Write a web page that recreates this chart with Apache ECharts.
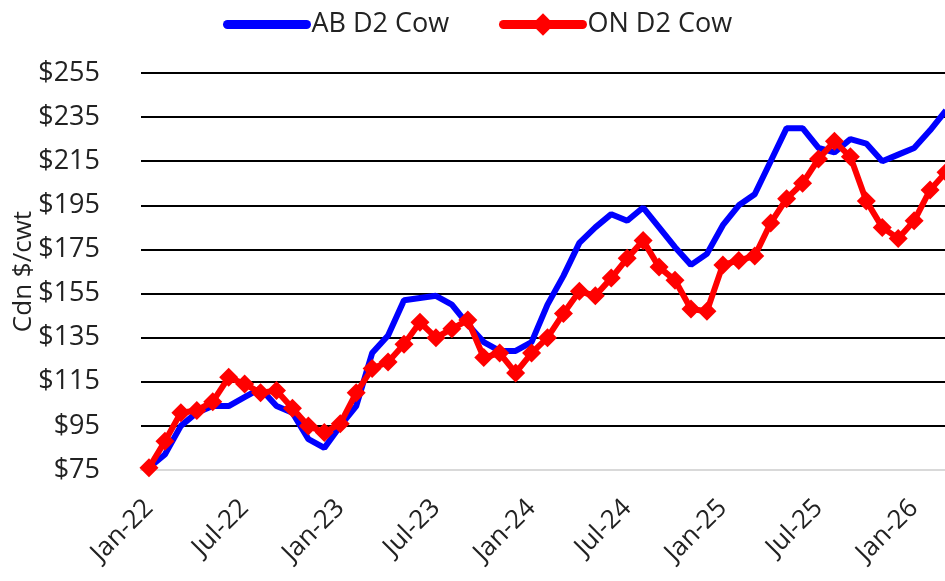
<!DOCTYPE html>
<html>
<head>
<meta charset="utf-8">
<script src="https://cdn.jsdelivr.net/npm/echarts@6/dist/echarts.min.js"></script>
<style>
  html, body { margin: 0; padding: 0; background: #fff; }
  #chart { width: 945px; height: 581px; }
</style>
</head>
<body>
<div id="chart"></div>
<script>
// monthly, Jan-22 .. Mar-26
var months = [
  'Jan-22', 'Feb-22', 'Mar-22', 'Apr-22', 'May-22', 'Jun-22', 'Jul-22', 'Aug-22', 'Sep-22', 'Oct-22', 'Nov-22', 'Dec-22',
  'Jan-23', 'Feb-23', 'Mar-23', 'Apr-23', 'May-23', 'Jun-23', 'Jul-23', 'Aug-23', 'Sep-23', 'Oct-23', 'Nov-23', 'Dec-23',
  'Jan-24', 'Feb-24', 'Mar-24', 'Apr-24', 'May-24', 'Jun-24', 'Jul-24', 'Aug-24', 'Sep-24', 'Oct-24', 'Nov-24', 'Dec-24',
  'Jan-25', 'Feb-25', 'Mar-25', 'Apr-25', 'May-25', 'Jun-25', 'Jul-25', 'Aug-25', 'Sep-25', 'Oct-25', 'Nov-25', 'Dec-25',
  'Jan-26', 'Feb-26', 'Mar-26'
];

var abCow = [
  76, 82, 95, 101, 104, 104, 108, 112, 104, 101, 89, 85,
  95, 104, 128, 136, 152, 153, 154, 150, 141, 133, 129, 129,
  133, 150, 163, 178, 185, 191, 188, 194, 185, 176, 168, 173,
  186, 195, 200, 215, 230, 230, 221, 219, 225, 223, 215, 218,
  221, 229, 238
];

var onCow = [
  76, 88, 101, 102, 106, 117, 114, 110, 111, 103, 95, 92,
  96, 110, 121, 124, 132, 142, 135, 139, 143, 126, 128, 119,
  128, 135, 146, 156, 154, 162, 171, 179, 167, 161, 148, 147,
  168, 170, 172, 187, 198, 205, 216, 224, 217, 197, 185, 180,
  188, 202, 210
];

var yTicks = { min: 75, max: 255, interval: 20 };

var font = "'Open Sans', 'Noto Sans', sans-serif";

function legendBox(name, left, extra) {
  var item = { name: name };
  if (extra) item.itemStyle = extra;
  return {
    left: left,
    top: 6,
    itemWidth: 79,
    itemHeight: 28,
    lineStyle: { width: 9, cap: 'round' },
    textStyle: { fontSize: 27, color: '#222', fontFamily: font },
    data: [item]
  };
}

var chart = echarts.init(document.getElementById('chart'));
var option = {
  animation: false,
  textStyle: { fontFamily: font },
  legend: [
    legendBox('AB D2 Cow', 218, { opacity: 0 }),
    legendBox('ON D2 Cow', 494)
  ],
  grid: {
    left: 141,
    top: 73,
    width: 813,
    height: 397,
    containLabel: false,
    outerBoundsMode: 'none'
  },
  xAxis: {
    type: 'category',
    boundaryGap: true,
    data: months,
    axisLine: { lineStyle: { color: '#d9d9d9', width: 2 } },
    axisTick: { show: false },
    axisLabel: {
      interval: 5,
      rotate: 45,
      margin: 34,
      fontSize: 26,
      color: '#222',
      fontFamily: font
    },
    splitLine: { show: false }
  },
  yAxis: {
    type: 'value',
    min: yTicks.min,
    max: yTicks.max,
    interval: yTicks.interval,
    name: 'Cdn $/cwt',
    nameLocation: 'middle',
    nameGap: 104,
    nameMoveOverlap: false,
    nameTextStyle: { fontSize: 26, color: '#222', fontFamily: font },
    axisLine: { show: false },
    axisTick: { show: false },
    axisLabel: {
      margin: 41,
      fontSize: 27,
      color: '#222',
      fontFamily: font,
      formatter: function (v) { return '$' + v; }
    },
    splitLine: { lineStyle: { color: '#000', width: 2 } }
  },
  series: [
    {
      name: 'AB D2 Cow',
      type: 'line',
      data: abCow,
      symbol: 'none',
      lineStyle: { color: '#0000ff', width: 6 },
      itemStyle: { color: '#0000ff' },
      z: 2
    },
    {
      name: 'ON D2 Cow',
      type: 'line',
      data: onCow,
      symbol: 'diamond',
      symbolSize: 19,
      showAllSymbol: true,
      lineStyle: { color: '#ff0000', width: 6 },
      itemStyle: { color: '#ff0000' },
      z: 3
    }
  ]
};
chart.setOption(option);
</script>
</body>
</html>
